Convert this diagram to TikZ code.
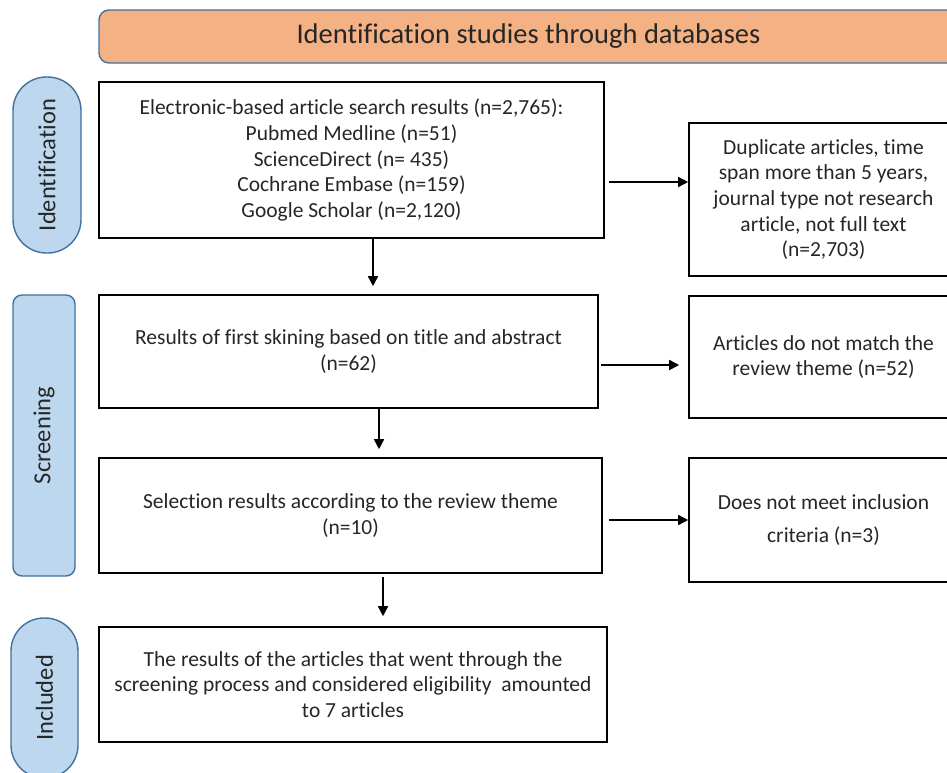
\documentclass[tikz,border=0pt]{standalone}
\usepackage{fontspec}
\setmainfont{Carlito}[Ligatures=NoCommon]
\usetikzlibrary{arrows.meta}
\definecolor{bannerfill}{HTML}{F4B183}
\definecolor{shapeline}{HTML}{41719C}
\definecolor{phasefill}{HTML}{BDD7EE}
\begin{document}
\begin{tikzpicture}[x=1pt,y=-1pt,
 banner/.style={draw=shapeline,fill=bannerfill,line width=1.4pt,rounded corners=10pt,
   font=\fontsize{28.5}{32}\selectfont,text=black!85},
 phase/.style={draw=shapeline,fill=phasefill,line width=1.4pt,rotate=90,
   font=\fontsize{24.5}{28}\selectfont,text=black!85},
 box/.style={draw=black,line width=1.6pt,align=center,inner sep=2pt,
   font=\fontsize{21.5}{25.6}\selectfont,text=black!85},
 arr/.style={line width=1.6pt,-{Triangle[length=10pt,width=10pt]}},
]
 \useasboundingbox (0,0) rectangle (947,772);
 \clip (0,0) rectangle (947,772);
 % banner
 \node[banner,minimum width=859pt,minimum height=53pt] (head) at (528.5,36.5)
   {Identification studies through databases};
 % phases
 \node[phase,minimum width=176pt,minimum height=68pt,rounded corners=33.5pt] (ident) at (47,165) {Identification};
 \node[phase,minimum width=281pt,minimum height=62pt,rounded corners=9pt] (screen) at (44,435.5) {Screening};
 \node[phase,minimum width=160pt,minimum height=67pt,rounded corners=33pt] (incl) at (44.5,698) {Included};
 % main column
 \node[box,minimum width=505pt,minimum height=156pt] (search) at (351.5,160)
   {Electronic-based article search results (n=2,765):\\ Pubmed Medline (n=51)\\ ScienceDirect (n= 435)\\
    Cochrane Embase (n=159)\\ Google Scholar (n=2,120)};
 \node[box,minimum width=499pt,minimum height=113pt] (first) at (348.5,351.5)
   {Results of first skining based on title and abstract\\ (n=62)};
 \node[box,minimum width=503pt,minimum height=115pt] (select) at (350.5,515.5)
   {Selection results according to the review theme\\ (n=10)};
 \node[box,minimum width=508pt,minimum height=115pt] (final) at (353,684.5)
   {The results of the articles that went through the\\ screening process and considered eligibility~ amounted\\ to 7 articles};
 % excluded column
 \node[box,minimum width=269pt,minimum height=153pt] (dup) at (823.5,199.5)
   {Duplicate articles, time\\ span more than 5 years,\\ journal type not research\\ article, not full text\\ (n=2,703)};
 \node[box,minimum width=269pt,minimum height=122pt] (nomatch) at (823.5,357)
   {Articles do not match the\\ review theme (n=52)};
 \node[box,minimum width=269pt,minimum height=124pt] (noinc) at (823.5,520)
   {Does not meet inclusion\\[7pt] criteria (n=3)};
 % arrows
 \draw[arr,shorten <=4pt] ([yshift=-22pt]search.east) -- ([yshift=-22pt]search.east -| dup.west);
 \draw[arr,shorten <=2pt,shorten >=9pt] ([yshift=-13.5pt]first.east) -- ([yshift=-13.5pt]first.east -| nomatch.west);
 \draw[arr,shorten <=6pt] ([yshift=-4.5pt]select.east) -- ([yshift=-4.5pt]select.east -| noinc.west);
 \draw[arr,shorten >=8pt] ([xshift=21.5pt]search.south) -- ([xshift=21.5pt]search.south |- first.north);
 \draw[arr,shorten >=8pt] ([xshift=30.5pt]first.south) -- ([xshift=30.5pt]first.south |- select.north);
 \draw[arr,shorten <=3pt,shorten >=10pt] ([xshift=32.5pt]select.south) -- ([xshift=32.5pt]select.south |- final.north);
\end{tikzpicture}
\end{document}
